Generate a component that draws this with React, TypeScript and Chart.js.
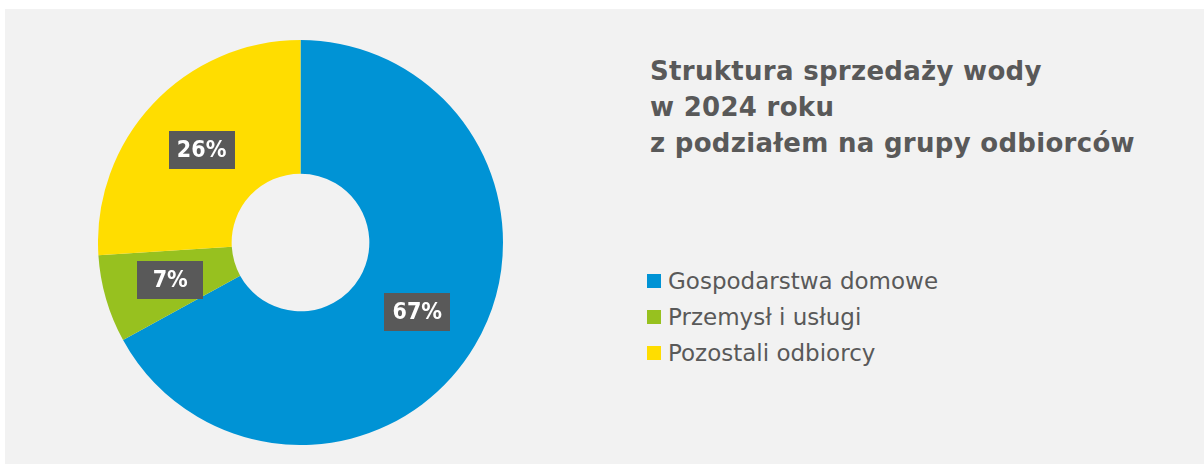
import React, { useEffect, useRef } from "react";
import { Chart, registerables } from "chart.js";

Chart.register(...registerables);

const categories = ["Gospodarstwa domowe", "Przemysł i usługi", "Pozostali odbiorcy"];
const shares = [67, 7, 26];
const colors = ["#0093D5", "#97C11F", "#FFDD00"];
const titleLines = ["Struktura sprzedaży wody", "w 2024 roku", "z podziałem na grupy odbiorców"];

const FONT = "'DejaVu Sans', sans-serif";
const LABEL_FONT = "'DejaVu Sans Condensed', 'DejaVu Sans', sans-serif";
const TEXT = "#595959";

const labelPlugin = {
  id: "boxLabels",
  afterDatasetsDraw(chart: any) {
    const ctx = chart.ctx;
    const meta = chart.getDatasetMeta(0);
    const data = chart.data.datasets[0].data as number[];
    ctx.save();
    ctx.font = `bold 23px ${LABEL_FONT}`;
    ctx.textAlign = "center";
    ctx.textBaseline = "middle";
    meta.data.forEach((arc: any, i: number) => {
      const p = arc.tooltipPosition();
      const txt = `${data[i]}%`;
      const w = 66;
      const h = 38;
      ctx.fillStyle = "#595959";
      ctx.fillRect(Math.round(p.x - w / 2), Math.round(p.y - h / 2), w, h);
      ctx.fillStyle = "#ffffff";
      ctx.fillText(txt, p.x, p.y + 1);
    });
    ctx.restore();
  },
};

export default function App() {
  const ref = useRef<HTMLCanvasElement | null>(null);
  useEffect(() => {
    if (!ref.current) return;
    const chart = new Chart(ref.current, {
      type: "doughnut",
      data: {
        labels: categories,
        datasets: [
          {
            data: shares,
            backgroundColor: colors,
            borderWidth: 0,
            hoverOffset: 0,
          },
        ],
      },
      options: {
        animation: false,
        responsive: false,
        maintainAspectRatio: false,
        cutout: "34%",
        layout: { padding: 0 },
        plugins: {
          legend: { display: false },
          tooltip: { enabled: false },
          title: { display: false },
        },
        events: [],
      },
      plugins: [labelPlugin],
    });
    return () => chart.destroy();
  }, []);

  return (
    <div
      style={{
        position: "absolute",
        left: 5,
        top: 9,
        width: 1199,
        height: 455,
        background: "#F2F2F2",
        fontFamily: FONT,
        color: TEXT,
      }}
    >
      <canvas
        ref={ref}
        width={405}
        height={405}
        style={{ position: "absolute", left: 93, top: 31, width: 405, height: 405 }}
      />
      <div
        style={{
          position: "absolute",
          left: 645,
          top: 44,
          fontWeight: "bold",
          fontSize: 26,
          letterSpacing: 0.3,
          lineHeight: "36px",
          whiteSpace: "nowrap",
        }}
      >
        {titleLines.map((t) => (
          <div key={t}>{t}</div>
        ))}
      </div>
      <div style={{ position: "absolute", left: 642, top: 254 }}>
        {categories.map((c, i) => (
          <div
            key={c}
            style={{ display: "flex", alignItems: "center", height: 36, fontSize: 23, whiteSpace: "nowrap" }}
          >
            <span
              style={{ display: "inline-block", width: 14, height: 14, background: colors[i], marginRight: 7 }}
            />
            <span>{c}</span>
          </div>
        ))}
      </div>
    </div>
  );
}
